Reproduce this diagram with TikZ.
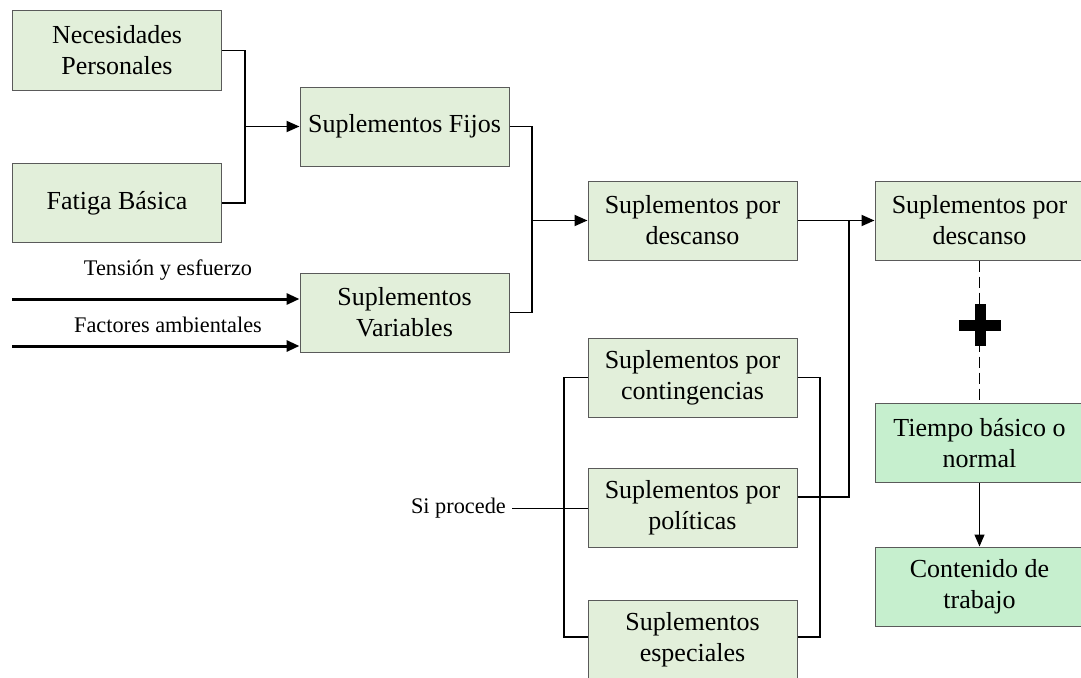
\documentclass[tikz,border=0pt]{standalone}
\usepackage{fontspec}
\setmainfont{Liberation Serif}
\usetikzlibrary{arrows.meta}
\definecolor{boxfill}{RGB}{226,239,218}
\definecolor{boxfilldark}{RGB}{198,239,206}
\definecolor{boxline}{RGB}{90,90,90}
\tikzset{
  box/.style={draw=boxline, line width=1pt, fill=boxfill, minimum width=209pt,
    minimum height=79pt, align=center, inner sep=0pt,
    font=\fontsize{26}{31}\selectfont},
  darkbox/.style={box, fill=boxfilldark},
  link/.style={line width=1.8pt, draw=black},
  arr/.style={link, -{Triangle[length=13pt,width=11pt]}},
  inarr/.style={line width=3pt, -{Triangle[length=13pt,width=11pt]}},
  lbl/.style={font=\fontsize{22.3}{26}\selectfont, inner sep=0pt},
}
\begin{document}
\begin{tikzpicture}[x=1pt,y=-1pt]
\useasboundingbox (0,0) rectangle (1081,677);

% boxes
\node[box] (nec) at (117,50.5) {Necesidades\\Personales};
\node[box] (fat) at (117,203) {Fatiga Básica};
\node[box] (fij) at (404.5,126.5) {Suplementos Fijos};
\node[box] (var) at (404.5,312.5) {Suplementos\\Variables};
\node[box] (d1) at (692.5,220.5) {Suplementos por\\descanso};
\node[box] (d2) at (979.5,220.5) {Suplementos por\\descanso};
\node[box] (cg) at (692.5,377.5) {Suplementos por\\contingencias};
\node[box] (pol) at (692.5,508) {Suplementos por\\políticas};
\node[box] (esp) at (692.5,639.5) {Suplementos\\especiales};
\node[darkbox] (tie) at (979.5,443) {Tiempo básico o\\normal};
\node[darkbox] (con) at (979.5,586.5) {Contenido de\\trabajo};

% junction points
\coordinate (j1) at (245,126.5);
\coordinate (j2) at (532,220.5);
\coordinate (j3) at (849,220.5);

% personal needs + basic fatigue -> fixed allowances
\draw[link] (nec.east) -| (j1) |- (fat.east);
\draw[arr] (j1) -- (fij.west);

% fixed + variable -> rest allowances
\draw[link] (fij.east) -| (j2) |- (var.east);
\draw[arr] (j2) -- (d1.west);

% rest allowances -> total
\draw[arr] (d1.east) -- (d2.west);
\draw[link] (pol.east |- 0,497) -| (j3);

% brackets around the optional allowances
\draw[link] (cg.west) -| (564,500) |- (esp.west |- 0,637);
\draw[link] (cg.east) -| (820,500) |- (esp.east |- 0,637);

% "Si procede" lead
\node[lbl, anchor=east] (si) at (506,508) {Si procede};
\draw[line width=0.9pt] (si.east) ++(6,0) -- (pol.west);

% variable allowance inputs
\coordinate (in1) at (12,299);
\coordinate (in2) at (12,346);
\draw[inarr] (in1) -- (var.west |- in1);
\draw[inarr] (in2) -- (var.west |- in2);
\node[lbl] (t1) at (168,270) {Tensión y esfuerzo};
\node[lbl] (t2) at (168,325) {Factores ambientales};

% sum of rest allowances and basic time
\draw[line width=1.3pt, dash pattern=on 11pt off 5pt] (d2.south) -- (tie.north);
\fill (959,319.5) rectangle (1001,331);
\fill (974.5,304) rectangle (985.5,346);

\draw[line width=1.3pt, -{Triangle[length=12pt,width=10pt]}] (tie.south) -- (con.north);
\end{tikzpicture}
\end{document}
